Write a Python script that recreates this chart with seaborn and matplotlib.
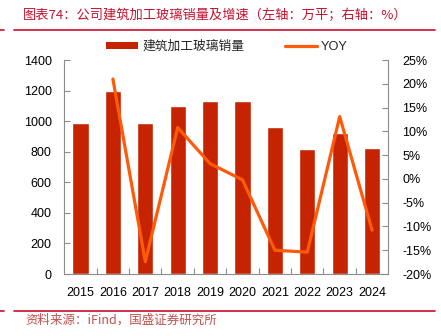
import numpy as np
import pandas as pd
import matplotlib
matplotlib.use("Agg")
import matplotlib.pyplot as plt
from matplotlib.lines import Line2D
from matplotlib.patches import Patch
import seaborn as sns

years = ["2015", "2016", "2017", "2018", "2019", "2020", "2021", "2022", "2023", "2024"]
sales = [990, 1200, 990, 1100, 1135, 1133, 964, 818, 922, 824]
yoy_years = ["2016", "2017", "2018", "2019", "2020", "2021", "2022", "2023", "2024"]
yoy = [21.0, -17.4, 10.8, 3.2, -0.2, -15.0, -15.4, 13.1, -10.8]
left_ticks = [0, 200, 400, 600, 800, 1000, 1200, 1400]
right_ticks = [-20, -15, -10, -5, 0, 5, 10, 15, 20, 25]

title = "图表74：公司建筑加工玻璃销量及增速（左轴：万平；右轴：%）"
source = "资料来源：iFind，国盛证券研究所"
bar_label = "建筑加工玻璃销量"
line_label = "YOY"

BAR = "#C62300"
LINE = "#FF5A0A"
RED = "#C8102E"
SPINE = "#8C8C8C"

sns.set_style("white")
plt.rcParams["font.family"] = ["Liberation Sans", "Noto Sans CJK SC", "DejaVu Sans"]
plt.rcParams["axes.unicode_minus"] = False

fig = plt.figure(figsize=(4.41, 3.36), dpi=100)
ax = fig.add_axes([0.1458, 0.1845, 0.7347, 0.6369])

df = pd.DataFrame({"year": years, "sales": sales})
sns.barplot(data=df, x="year", y="sales", order=years, color=BAR, width=0.5,
            saturation=1, ax=ax)
ax.set_xlim(-0.5, len(years) - 0.5)
ax.set_ylim(0, 1400)
ax.set_yticks(left_ticks)
ax.set_xlabel("")
ax.set_ylabel("")

ax2 = ax.twinx()
ldf = pd.DataFrame({"pos": [years.index(y) for y in yoy_years], "yoy": yoy})
sns.lineplot(data=ldf, x="pos", y="yoy", color=LINE, linewidth=2.3, ax=ax2)
ax2.set_ylim(-20, 25)
ax2.set_yticks(right_ticks)
ax2.set_yticklabels([f"{t}%" for t in right_ticks])
ax2.set_ylabel("")
ax2.set_xlim(-0.5, len(years) - 0.5)

for a in (ax, ax2):
    for s in a.spines.values():
        s.set_color(SPINE)
        s.set_linewidth(0.8)
    a.spines["top"].set_visible(False)

ax.spines["right"].set_visible(False)
ax2.spines["left"].set_visible(False)
ax2.spines["bottom"].set_visible(False)

ax.tick_params(axis="y", direction="in", length=4, width=0.8, color=SPINE,
               labelsize=9, pad=9, labelcolor="#000000", left=True)
ax2.tick_params(axis="y", direction="in", length=4, width=0.8, color=SPINE,
                labelsize=9, pad=10, labelcolor="#000000", right=True)
ax.tick_params(axis="x", which="major", length=0, labelsize=9, pad=9, labelcolor="#000000")
ax.set_xticks(np.arange(0.5, len(years) - 1, 1.0), minor=True)
ax.tick_params(axis="x", which="minor", direction="in", length=4, width=0.8,
               color=SPINE, bottom=True)
ax2.tick_params(axis="x", which="both", bottom=False, labelbottom=False)

handles = [Patch(facecolor=BAR, edgecolor="none", label=bar_label),
           Line2D([0], [0], color=LINE, linewidth=2.3, label=line_label)]
fig.legend(handles=handles, loc="center", bbox_to_anchor=(0.515, 0.8616), ncol=2,
           frameon=False, handlelength=2.5, handleheight=0.5,
           handletextpad=0.3, columnspacing=3.2,
           prop={"family": ["Liberation Sans", "Noto Sans CJK SC"], "size": 9.2})

# title and source
fig.text(23 / 441, 1 - 15 / 336, title, color=RED, fontsize=9.5, va="center", ha="left",
         family=["Noto Sans CJK SC", "DejaVu Sans"])
fig.text(25 / 441, 1 - 320 / 336, source, color="#C0504D", fontsize=9, va="center", ha="left",
         family=["Noto Sans CJK SC", "DejaVu Sans"])

for yy in (30, 310.7):
    yf = 1 - yy / 336
    fig.add_artist(Line2D([14 / 441, 435 / 441], [yf, yf], color=RED, linewidth=1.2,
                          transform=fig.transFigure))
    fig.add_artist(Line2D([0, 4 / 441], [yf, yf], color=RED, linewidth=1.2,
                          transform=fig.transFigure))

fig.savefig("out.png", dpi=100)
